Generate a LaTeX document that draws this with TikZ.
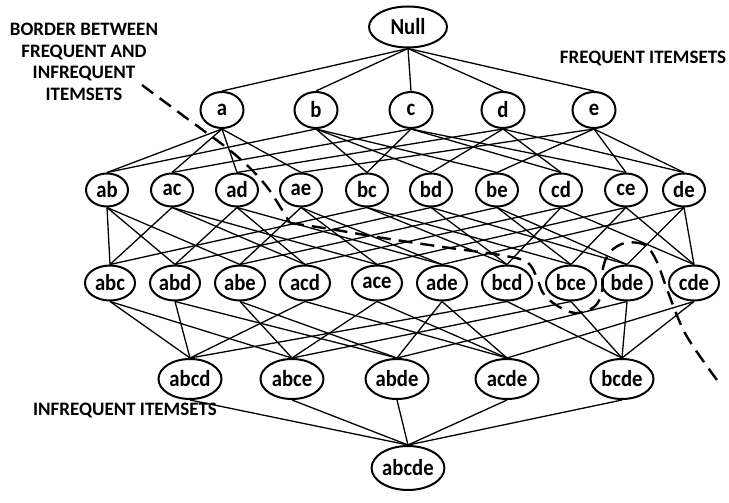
\documentclass[tikz,border=0pt]{standalone}
\usepackage{fontspec}
\setmainfont{Carlito}
\newfontfamily\nodefont{Carlito}[FakeStretch=0.9]
\usetikzlibrary{shapes.geometric}
\begin{document}
\begin{tikzpicture}[x=1pt,y=-1pt,
  nd/.style={ellipse, draw, line width=2pt, inner sep=0pt, font=\nodefont\bfseries\fontsize{23}{23}\selectfont},
  lv0/.style={nd, minimum width=78pt, minimum height=41pt},
  lv1/.style={nd, minimum width=43pt, minimum height=36pt},
  lv2/.style={nd, minimum width=42pt, minimum height=33pt},
  lv3/.style={nd, minimum width=50pt, minimum height=35pt},
  lv4/.style={nd, minimum width=63pt, minimum height=40pt},
  lv5/.style={nd, minimum width=72pt, minimum height=44pt},
  edge/.style={line width=1.3pt},
  lbl/.style={font=\bfseries\fontsize{19}{21.5}\selectfont, align=center, inner sep=0pt},
  border/.style={line width=2.4pt, dash pattern=on 14pt off 8pt}]
\useasboundingbox (0,0) rectangle (729,503);
% level 0
\node[lv0] (N) at (408,27) {Null};
% level 1
\foreach \n/\x in {a/222,b/316,c/411,d/503,e/594}
  \node[lv1] (\n) at (\x,110) {\n};
% level 2
\foreach \n/\x in {ab/107,ac/172,ad/237,ae/301,bc/367,bd/431,be/497,cd/561,ce/626,de/684}
  \node[lv2] (\n) at (\x,190) {\n};
% level 3
\foreach \n/\x in {abc/110,abd/175,abe/240,acd/305,ace/377,ade/442,bcd/507,bce/571,bde/627,cde/694}
  \node[lv3] (\n) at (\x,283) {\n};
% level 4
\foreach \n/\x in {abcd/190,abce/292,abde/397,acde/507,bcde/622}
  \node[lv4] (\n) at (\x,379) {\n};
% level 5
\node[lv5] (abcde) at (408,468) {abcde};
% edges
\foreach \u/\l in {N/a,N/b,N/c,N/d,N/e,
  a/ab,a/ac,a/ad,a/ae,b/ab,b/bc,b/bd,b/be,c/ac,c/bc,c/cd,c/ce,d/ad,d/bd,d/cd,d/de,e/ae,e/be,e/ce,e/de,
  ab/abc,ab/abd,ab/abe,ac/abc,ac/acd,ac/ace,ad/abd,ad/acd,ad/ade,ae/abe,ae/ace,ae/ade,
  bc/abc,bc/bcd,bc/bce,bd/abd,bd/bcd,bd/bde,be/abe,be/bce,be/bde,
  cd/acd,cd/bcd,cd/cde,ce/ace,ce/bce,ce/cde,de/ade,de/bde,de/cde,
  abc/abcd,abc/abce,abd/abcd,abd/abde,abe/abce,abe/abde,acd/abcd,acd/acde,ace/abce,ace/acde,
  ade/abde,ade/acde,bcd/abcd,bcd/bcde,bce/abce,bce/bcde,bde/abde,bde/bcde,cde/acde,cde/bcde,
  abcd/abcde,abce/abcde,abde/abcde,acde/abcde,bcde/abcde}
  \draw[edge] (\u.south) -- (\l.north);
% labels
\node[lbl] (lb1) at (84,62) {BORDER BETWEEN\\FREQUENT AND\\INFREQUENT\\ITEMSETS};
\node[lbl] (lb2) at (643,58) {FREQUENT ITEMSETS};
\node[lbl] (lb3) at (125,410) {INFREQUENT ITEMSETS};
% border line
\draw[border] plot[smooth, tension=0.5] coordinates {(142,85) (185,117) (227,148) (252,170) (270,191) (290,223)};
\draw[border] plot[smooth, tension=0.55] coordinates {(290,223) (330,229) (383,238) (443,247) (500,255) (527,262) (537,278) (543,293) (556,305) (575,313) (594,307) (602,292) (603,268) (610,252) (625,243) (645,245) (657,262) (668,292) (686,335) (717,380)};
\end{tikzpicture}
\end{document}
